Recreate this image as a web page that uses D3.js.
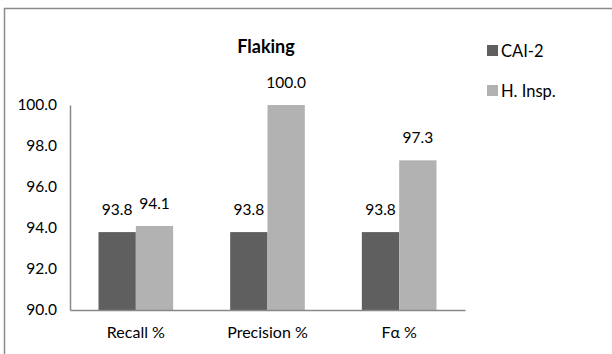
<!DOCTYPE html>
<html><head><meta charset="utf-8">
<script src="https://cdn.jsdelivr.net/npm/d3@7"></script>
<style>body{margin:0;background:#fff}svg{display:block;font-family:Lato,"Open Sans",sans-serif}</style>
</head><body>
<svg id="c" width="612" height="354"></svg>
<script>
const categories = ["Recall %", "Precision %", "Fα %"];
const seriesNames = ["CAI-2", "H. Insp."];
const cai2 = [93.8, 93.8, 93.8];
const hInsp = [94.1, 100.0, 97.3];
const yTicks = [90, 92, 94, 96, 98, 100];
const colors = ["#5f5f5f", "#b2b2b2"];
const title = "Flaking";

(function () {
const svg = d3.select("#c");
svg.append("rect").attr("x", 4.5).attr("y", 8.5).attr("width", 620).attr("height", 360)
  .attr("fill", "none").attr("stroke", "#8a8a8a").attr("stroke-width", 1.5);

const mLeft = 70, mRight = 465, mTop = 105, mBottom = 310;
const x = d3.scaleBand().domain(categories).range([mLeft, mRight]).paddingInner(0.433).paddingOuter(0.2165);
const x1 = d3.scaleBand().domain(seriesNames).range([0, x.bandwidth()]);
const y = d3.scaleLinear().domain([90, 100]).range([mBottom, mTop]);

const series = [cai2, hInsp];
const data = [];
categories.forEach((c, i) => series.forEach((s, j) => data.push({c, s: seriesNames[j], v: s[i], j})));

svg.selectAll("rect.bar").data(data).join("rect").attr("class", "bar")
  .attr("x", d => x(d.c) + x1(d.s)).attr("width", x1.bandwidth())
  .attr("y", d => y(d.v)).attr("height", d => y(90) - y(d.v))
  .attr("fill", d => colors[d.j]);

svg.selectAll("text.val").data(data).join("text").attr("class", "val")
  .attr("x", d => x(d.c) + x1(d.s) + x1.bandwidth() / 2).attr("y", d => y(d.v) - 17)
  .attr("text-anchor", "middle").attr("font-size", 15.5).attr("fill", "#000")
  .text(d => d.v.toFixed(1));

const yAxis = svg.append("g").attr("transform", `translate(${mLeft},0)`)
  .call(d3.axisLeft(y).tickValues(yTicks).tickSize(0).tickPadding(13).tickFormat(d => d.toFixed(1)));
yAxis.select(".domain").attr("stroke", "#888").attr("stroke-width", 1.5);
yAxis.selectAll("text").attr("font-size", 15.5).attr("font-family", "Lato").attr("fill", "#000");

const xAxis = svg.append("g").attr("transform", `translate(0,${mBottom})`)
  .call(d3.axisBottom(x).tickSize(0).tickPadding(17));
xAxis.select(".domain").attr("stroke", "#888").attr("stroke-width", 1.5);
xAxis.selectAll("text").attr("font-size", 16).attr("font-family", "Lato").attr("fill", "#000");

svg.append("text").attr("x", 266).attr("y", 53).attr("text-anchor", "middle")
  .attr("font-size", 18).attr("font-weight", "bold").text(title);

const lg = svg.selectAll("g.lg").data(seriesNames).join("g").attr("class", "lg")
  .attr("transform", (d, i) => `translate(487,${45 + i * 40})`);
lg.append("rect").attr("width", 11).attr("height", 11).attr("fill", (d, i) => colors[i]);
lg.append("text").attr("x", 14).attr("y", 11.5).attr("font-size", 16.5).text(d => d);
})();
</script>
</body></html>
